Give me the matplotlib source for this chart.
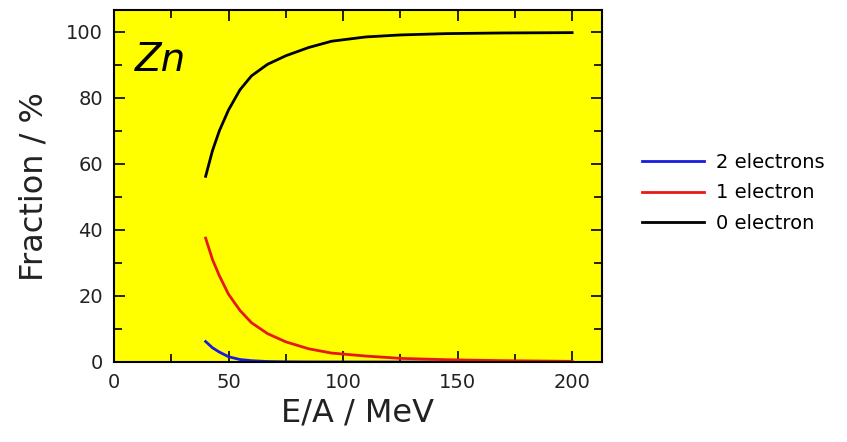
import numpy as np
import matplotlib.pyplot as plt
from matplotlib.ticker import MultipleLocator

# energy per nucleon (MeV) and charge-state fractions (%)
energy = [40, 43, 46, 50, 55, 60, 67, 75, 85, 95, 110, 125, 145, 170, 200]
two_el = [6.2, 4.3, 3.0, 1.6, 0.75, 0.4, 0.15, 0.07, 0.03, 0.02, 0.01, 0.0, 0.0, 0.0, 0.0]
one_el = [37.5, 31.0, 26.1, 20.5, 15.6, 11.9, 8.6, 6.1, 4.0, 2.7, 1.8, 1.1, 0.7, 0.4, 0.2]
zero_el = [56.2, 64.0, 70.0, 76.3, 82.4, 86.6, 90.1, 92.7, 95.2, 97.1, 98.4, 99.0, 99.4, 99.6, 99.7]

labels = ['2 electrons', '1 electron', '0 electron']
colors = ['#1a1ae0', '#e81818', 'black']

fig = plt.figure(figsize=(8.47, 4.42), dpi=100)
ax = fig.add_axes([0.1346, 0.181, 0.576, 0.796])
ax.set_facecolor('#ffff00')

for y, lab, c in zip([two_el, one_el, zero_el], labels, colors):
    ax.plot(energy, y, color=c, lw=2.0, label=lab, solid_joinstyle='round')

ax.set_xlim(0, 213)
ax.set_ylim(0, 106.5)
ax.xaxis.set_major_locator(MultipleLocator(50))
ax.xaxis.set_minor_locator(MultipleLocator(25))
ax.yaxis.set_major_locator(MultipleLocator(20))
ax.yaxis.set_minor_locator(MultipleLocator(10))
ax.tick_params(which='both', direction='in', top=True, right=True, width=1.2,
               labelsize=14, labelcolor='#222222', pad=8)
ax.tick_params(which='major', length=8)
ax.tick_params(which='minor', length=6)
for s in ax.spines.values():
    s.set_linewidth(1.5)

ax.set_xlabel('E/A / MeV', fontsize=23, color='#222222', labelpad=4)
ax.set_ylabel('Fraction / %', fontsize=23, color='#222222', labelpad=12)

ax.text(9, 88, 'Zn', fontsize=28, style='italic')

ax.legend(loc='upper left', bbox_to_anchor=(0.749, 0.672), bbox_transform=fig.transFigure,
          frameon=False, fontsize=14, handlelength=3.2, handletextpad=0.6,
          labelspacing=0.6, borderaxespad=0)

fig.savefig('out.png', dpi=100)
